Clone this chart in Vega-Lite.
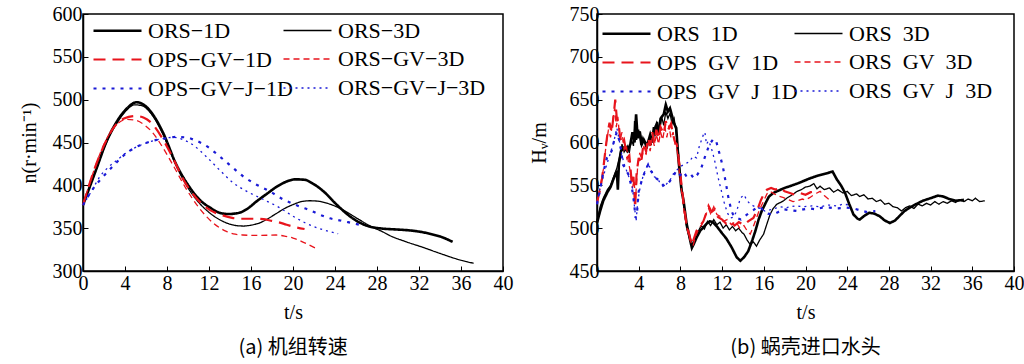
{
"$schema": "https://vega.github.io/schema/vega-lite/v6.json",
"padding": {"left": 18, "top": 3, "right": 0, "bottom": 0},
"config": {
 "font": "Times New Roman",
 "view": {"stroke": "black", "strokeWidth": 1.5},
 "axis": {"domainColor": "black", "domainWidth": 1.5, "tickColor": "black", "tickSize": -5, "tickWidth": 1, "labelFont": "Times New Roman", "labelFontSize": 20, "labelColor": "black", "labelFlush": false, "titleFont": "Times New Roman", "titleFontSize": 20, "titleFontWeight": "normal", "titleColor": "black", "grid": false, "labelPadding": 3},
 "legend": {"orient": "none", "direction": "horizontal", "columns": 2, "symbolType": "M-2.4,0H2.4", "symbolSize": 400, "labelFont": "Times New Roman", "labelFontSize": 22, "labelColor": "black", "labelOffset": 19, "rowPadding": 6, "columnPadding": 0, "labelLimit": 300},
 "concat": {"spacing": 14},
 "title": {"font": "Noto Sans CJK SC", "fontSize": 20, "fontWeight": "normal", "orient": "bottom", "anchor": "middle", "color": "black", "frame": "group"}
},
"datasets": {
"a": [
{"s":"ORS−1D","t":0,"v":377},{"s":"ORS−1D","t":1.3,"v":420},{"s":"ORS−1D","t":2.2,"v":450},{"s":"ORS−1D","t":3.2,"v":474},{"s":"ORS−1D","t":4.2,"v":490},{"s":"ORS−1D","t":5.1,"v":497},{"s":"ORS−1D","t":6.0,"v":492},{"s":"ORS−1D","t":6.8,"v":480},{"s":"ORS−1D","t":7.6,"v":462},{"s":"ORS−1D","t":8.9,"v":424},{"s":"ORS−1D","t":10.2,"v":397},{"s":"ORS−1D","t":11.2,"v":382},{"s":"ORS−1D","t":12.1,"v":374},{"s":"ORS−1D","t":13.0,"v":368},{"s":"ORS−1D","t":13.8,"v":366.5},{"s":"ORS−1D","t":14.9,"v":368},{"s":"ORS−1D","t":15.7,"v":373},{"s":"ORS−1D","t":16.5,"v":381},{"s":"ORS−1D","t":17.5,"v":390},{"s":"ORS−1D","t":18.4,"v":398},{"s":"ORS−1D","t":19.3,"v":404},{"s":"ORS−1D","t":20.2,"v":407},{"s":"ORS−1D","t":21.1,"v":406.5},{"s":"ORS−1D","t":21.9,"v":402},{"s":"ORS−1D","t":22.9,"v":393},{"s":"ORS−1D","t":24.2,"v":377},{"s":"ORS−1D","t":25.4,"v":364},{"s":"ORS−1D","t":26.6,"v":355},{"s":"ORS−1D","t":27.6,"v":351},{"s":"ORS−1D","t":28.5,"v":349.5},{"s":"ORS−1D","t":29.8,"v":348.5},{"s":"ORS−1D","t":31.0,"v":347.5},{"s":"ORS−1D","t":32.0,"v":346},{"s":"ORS−1D","t":33.2,"v":343},{"s":"ORS−1D","t":34.3,"v":339},{"s":"ORS−1D","t":35.2,"v":334},
{"s":"ORS−3D","t":0,"v":377},{"s":"ORS−3D","t":1.3,"v":420},{"s":"ORS−3D","t":2.2,"v":449},{"s":"ORS−3D","t":3.2,"v":472},{"s":"ORS−3D","t":4.1,"v":487},{"s":"ORS−3D","t":4.9,"v":494},{"s":"ORS−3D","t":5.6,"v":493},{"s":"ORS−3D","t":6.4,"v":485},{"s":"ORS−3D","t":7.6,"v":460},{"s":"ORS−3D","t":8.8,"v":425},{"s":"ORS−3D","t":10.0,"v":397},{"s":"ORS−3D","t":11.1,"v":379},{"s":"ORS−3D","t":12.1,"v":367.5},{"s":"ORS−3D","t":13.0,"v":360},{"s":"ORS−3D","t":13.8,"v":355.5},{"s":"ORS−3D","t":14.6,"v":353},{"s":"ORS−3D","t":15.3,"v":352.5},{"s":"ORS−3D","t":16.0,"v":353.5},{"s":"ORS−3D","t":16.8,"v":356},{"s":"ORS−3D","t":17.6,"v":361},{"s":"ORS−3D","t":18.4,"v":367},{"s":"ORS−3D","t":19.2,"v":373},{"s":"ORS−3D","t":20.0,"v":377.5},{"s":"ORS−3D","t":20.8,"v":381},{"s":"ORS−3D","t":21.6,"v":382},{"s":"ORS−3D","t":22.4,"v":381.5},{"s":"ORS−3D","t":23.4,"v":378.5},{"s":"ORS−3D","t":24.5,"v":373},{"s":"ORS−3D","t":25.5,"v":366},{"s":"ORS−3D","t":26.3,"v":360},{"s":"ORS−3D","t":27.6,"v":351},{"s":"ORS−3D","t":28.5,"v":346},{"s":"ORS−3D","t":29.2,"v":341.5},{"s":"ORS−3D","t":30.8,"v":334},{"s":"ORS−3D","t":32.4,"v":327.5},{"s":"ORS−3D","t":34.0,"v":320.5},{"s":"ORS−3D","t":35.6,"v":314},{"s":"ORS−3D","t":37.2,"v":309},
{"s":"OPS−GV−1D","t":0,"v":377},{"s":"OPS−GV−1D","t":0.95,"v":414},{"s":"OPS−GV−1D","t":1.9,"v":444},{"s":"OPS−GV−1D","t":2.9,"v":467},{"s":"OPS−GV−1D","t":3.9,"v":478},{"s":"OPS−GV−1D","t":5.0,"v":481},{"s":"OPS−GV−1D","t":5.8,"v":479},{"s":"OPS−GV−1D","t":6.5,"v":473},{"s":"OPS−GV−1D","t":7.6,"v":454},{"s":"OPS−GV−1D","t":8.6,"v":431},{"s":"OPS−GV−1D","t":9.5,"v":408},{"s":"OPS−GV−1D","t":10.8,"v":385},{"s":"OPS−GV−1D","t":12.1,"v":371},{"s":"OPS−GV−1D","t":13.3,"v":365},{"s":"OPS−GV−1D","t":14.2,"v":362},{"s":"OPS−GV−1D","t":15.0,"v":361},{"s":"OPS−GV−1D","t":16.2,"v":361},{"s":"OPS−GV−1D","t":17.2,"v":360.5},{"s":"OPS−GV−1D","t":17.8,"v":359},{"s":"OPS−GV−1D","t":18.6,"v":357},{"s":"OPS−GV−1D","t":19.4,"v":354},{"s":"OPS−GV−1D","t":20.3,"v":351},{"s":"OPS−GV−1D","t":21.1,"v":349},
{"s":"ORS−GV−3D","t":0,"v":377},{"s":"ORS−GV−3D","t":1.0,"v":416},{"s":"ORS−GV−3D","t":2.0,"v":448},{"s":"ORS−GV−3D","t":3.2,"v":471},{"s":"ORS−GV−3D","t":4.2,"v":477},{"s":"ORS−GV−3D","t":5.0,"v":476},{"s":"ORS−GV−3D","t":5.9,"v":470},{"s":"ORS−GV−3D","t":6.6,"v":462},{"s":"ORS−GV−3D","t":7.3,"v":450},{"s":"ORS−GV−3D","t":8.6,"v":423},{"s":"ORS−GV−3D","t":9.8,"v":396.5},{"s":"ORS−GV−3D","t":11.1,"v":373},{"s":"ORS−GV−3D","t":12.4,"v":356},{"s":"ORS−GV−3D","t":13.6,"v":346.5},{"s":"ORS−GV−3D","t":14.5,"v":343},{"s":"ORS−GV−3D","t":15.2,"v":342},{"s":"ORS−GV−3D","t":16.8,"v":341.5},{"s":"ORS−GV−3D","t":18.4,"v":342},{"s":"ORS−GV−3D","t":19.3,"v":340.5},{"s":"ORS−GV−3D","t":20.0,"v":338.5},{"s":"ORS−GV−3D","t":21.0,"v":333.5},{"s":"ORS−GV−3D","t":22.1,"v":327},
{"s":"OPS−GV−J−1D","t":0,"v":377},{"s":"OPS−GV−J−1D","t":0.9,"v":395},{"s":"OPS−GV−J−1D","t":1.9,"v":410},{"s":"OPS−GV−J−1D","t":2.9,"v":423},{"s":"OPS−GV−J−1D","t":3.8,"v":434},{"s":"OPS−GV−J−1D","t":4.8,"v":443},{"s":"OPS−GV−J−1D","t":5.7,"v":448},{"s":"OPS−GV−J−1D","t":7.0,"v":453},{"s":"OPS−GV−J−1D","t":8.0,"v":455},{"s":"OPS−GV−J−1D","t":8.8,"v":456.5},{"s":"OPS−GV−J−1D","t":9.8,"v":456},{"s":"OPS−GV−J−1D","t":10.6,"v":453},{"s":"OPS−GV−J−1D","t":11.4,"v":448.5},{"s":"OPS−GV−J−1D","t":12.1,"v":443},{"s":"OPS−GV−J−1D","t":12.7,"v":437},{"s":"OPS−GV−J−1D","t":14.0,"v":423.5},{"s":"OPS−GV−J−1D","t":15.2,"v":411},{"s":"OPS−GV−J−1D","t":16.5,"v":401},{"s":"OPS−GV−J−1D","t":17.8,"v":393},{"s":"OPS−GV−J−1D","t":19.0,"v":384},{"s":"OPS−GV−J−1D","t":20.0,"v":378.5},{"s":"OPS−GV−J−1D","t":20.7,"v":375},{"s":"OPS−GV−J−1D","t":21.6,"v":371},{"s":"OPS−GV−J−1D","t":22.5,"v":366},{"s":"OPS−GV−J−1D","t":23.5,"v":361.5},{"s":"OPS−GV−J−1D","t":24.5,"v":359},{"s":"OPS−GV−J−1D","t":25.6,"v":356},{"s":"OPS−GV−J−1D","t":26.7,"v":353},
{"s":"ORS−GV−J−3D","t":0,"v":377},{"s":"ORS−GV−J−3D","t":0.8,"v":393},{"s":"ORS−GV−J−3D","t":1.6,"v":410},{"s":"ORS−GV−J−3D","t":2.4,"v":421},{"s":"ORS−GV−J−3D","t":3.2,"v":429},{"s":"ORS−GV−J−3D","t":4.0,"v":437},{"s":"ORS−GV−J−3D","t":4.8,"v":443},{"s":"ORS−GV−J−3D","t":5.6,"v":447.5},{"s":"ORS−GV−J−3D","t":6.4,"v":451},{"s":"ORS−GV−J−3D","t":7.6,"v":454.5},{"s":"ORS−GV−J−3D","t":8.6,"v":456},{"s":"ORS−GV−J−3D","t":9.4,"v":454},{"s":"ORS−GV−J−3D","t":10.5,"v":447},{"s":"ORS−GV−J−3D","t":11.7,"v":434},{"s":"ORS−GV−J−3D","t":13.0,"v":418},{"s":"ORS−GV−J−3D","t":14.3,"v":403},{"s":"ORS−GV−J−3D","t":15.6,"v":393},{"s":"ORS−GV−J−3D","t":17.1,"v":384},{"s":"ORS−GV−J−3D","t":18.7,"v":374},{"s":"ORS−GV−J−3D","t":20.0,"v":364},{"s":"ORS−GV−J−3D","t":21.2,"v":356},{"s":"ORS−GV−J−3D","t":22.4,"v":350},{"s":"ORS−GV−J−3D","t":23.5,"v":346},{"s":"ORS−GV−J−3D","t":24.3,"v":343.5}
],
"b": [
{"s":"ORS−1D","t":0,"v":506},{"s":"ORS−1D","t":0.3,"v":520},{"s":"ORS−1D","t":0.6,"v":532},{"s":"ORS−1D","t":1.0,"v":542},{"s":"ORS−1D","t":1.3,"v":548},{"s":"ORS−1D","t":1.6,"v":558},{"s":"ORS−1D","t":1.9,"v":567},{"s":"ORS−1D","t":2.0,"v":545},{"s":"ORS−1D","t":2.1,"v":575},{"s":"ORS−1D","t":2.3,"v":590},{"s":"ORS−1D","t":2.6,"v":594},{"s":"ORS−1D","t":2.9,"v":590},{"s":"ORS−1D","t":3.2,"v":598},{"s":"ORS−1D","t":3.4,"v":612},{"s":"ORS−1D","t":3.6,"v":600},{"s":"ORS−1D","t":3.75,"v":633},{"s":"ORS−1D","t":3.9,"v":605},{"s":"ORS−1D","t":4.1,"v":613},{"s":"ORS−1D","t":4.3,"v":598},{"s":"ORS−1D","t":4.5,"v":603},{"s":"ORS−1D","t":4.8,"v":596},{"s":"ORS−1D","t":5.1,"v":609},{"s":"ORS−1D","t":5.3,"v":600},{"s":"ORS−1D","t":5.5,"v":615},{"s":"ORS−1D","t":5.7,"v":621},{"s":"ORS−1D","t":5.9,"v":610},{"s":"ORS−1D","t":6.1,"v":628},{"s":"ORS−1D","t":6.4,"v":633},{"s":"ORS−1D","t":6.6,"v":644},{"s":"ORS−1D","t":6.8,"v":636},{"s":"ORS−1D","t":7.0,"v":640},{"s":"ORS−1D","t":7.2,"v":631},{"s":"ORS−1D","t":7.4,"v":622},{"s":"ORS−1D","t":7.6,"v":617},{"s":"ORS−1D","t":7.8,"v":582},{"s":"ORS−1D","t":8.1,"v":545},{"s":"ORS−1D","t":8.3,"v":532},{"s":"ORS−1D","t":8.6,"v":505},{"s":"ORS−1D","t":8.9,"v":488},{"s":"ORS−1D","t":9.1,"v":477},{"s":"ORS−1D","t":9.3,"v":482},{"s":"ORS−1D","t":9.55,"v":489},{"s":"ORS−1D","t":9.9,"v":497},{"s":"ORS−1D","t":10.2,"v":501},{"s":"ORS−1D","t":10.5,"v":505},{"s":"ORS−1D","t":10.8,"v":508},{"s":"ORS−1D","t":11.1,"v":507},{"s":"ORS−1D","t":11.5,"v":502},{"s":"ORS−1D","t":12.0,"v":494},{"s":"ORS−1D","t":12.4,"v":488},{"s":"ORS−1D","t":12.9,"v":478},{"s":"ORS−1D","t":13.4,"v":466},{"s":"ORS−1D","t":13.75,"v":462},{"s":"ORS−1D","t":14.1,"v":466},{"s":"ORS−1D","t":14.5,"v":473},{"s":"ORS−1D","t":14.9,"v":486},{"s":"ORS−1D","t":15.2,"v":497},{"s":"ORS−1D","t":15.5,"v":510},{"s":"ORS−1D","t":15.8,"v":520},{"s":"ORS−1D","t":16.2,"v":530},{"s":"ORS−1D","t":16.5,"v":537},{"s":"ORS−1D","t":16.9,"v":541},{"s":"ORS−1D","t":17.25,"v":543},{"s":"ORS−1D","t":18.0,"v":547},{"s":"ORS−1D","t":18.5,"v":549},{"s":"ORS−1D","t":19.2,"v":552},{"s":"ORS−1D","t":19.8,"v":555},{"s":"ORS−1D","t":20.4,"v":558},{"s":"ORS−1D","t":21.1,"v":561},{"s":"ORS−1D","t":21.7,"v":563},{"s":"ORS−1D","t":22.3,"v":565},{"s":"ORS−1D","t":22.6,"v":566},{"s":"ORS−1D","t":23.0,"v":557},{"s":"ORS−1D","t":23.4,"v":550},{"s":"ORS−1D","t":23.8,"v":541},{"s":"ORS−1D","t":24.2,"v":528},{"s":"ORS−1D","t":24.6,"v":516},{"s":"ORS−1D","t":25.0,"v":511},{"s":"ORS−1D","t":25.2,"v":510},{"s":"ORS−1D","t":25.6,"v":514},{"s":"ORS−1D","t":26.1,"v":518},{"s":"ORS−1D","t":26.6,"v":517},{"s":"ORS−1D","t":27.1,"v":514},{"s":"ORS−1D","t":27.6,"v":509},{"s":"ORS−1D","t":28.1,"v":506},{"s":"ORS−1D","t":28.6,"v":509},{"s":"ORS−1D","t":29.0,"v":514},{"s":"ORS−1D","t":29.5,"v":520},{"s":"ORS−1D","t":30.0,"v":524},{"s":"ORS−1D","t":30.6,"v":528},{"s":"ORS−1D","t":31.25,"v":532},{"s":"ORS−1D","t":32.0,"v":535},{"s":"ORS−1D","t":32.7,"v":538},{"s":"ORS−1D","t":33.2,"v":537},{"s":"ORS−1D","t":33.8,"v":534},{"s":"ORS−1D","t":34.4,"v":532},{"s":"ORS−1D","t":35.2,"v":533},
{"s":"ORS−3D","t":0,"v":508},{"s":"ORS−3D","t":0.3,"v":525},{"s":"ORS−3D","t":0.6,"v":535},{"s":"ORS−3D","t":1.0,"v":545},{"s":"ORS−3D","t":1.3,"v":550},{"s":"ORS−3D","t":1.6,"v":560},{"s":"ORS−3D","t":1.9,"v":570},{"s":"ORS−3D","t":2.2,"v":585},{"s":"ORS−3D","t":2.4,"v":598},{"s":"ORS−3D","t":2.6,"v":589},{"s":"ORS−3D","t":2.9,"v":596},{"s":"ORS−3D","t":3.1,"v":588},{"s":"ORS−3D","t":3.3,"v":604},{"s":"ORS−3D","t":3.5,"v":596},{"s":"ORS−3D","t":3.6,"v":625},{"s":"ORS−3D","t":3.8,"v":603},{"s":"ORS−3D","t":4.0,"v":615},{"s":"ORS−3D","t":4.2,"v":597},{"s":"ORS−3D","t":4.4,"v":606},{"s":"ORS−3D","t":4.7,"v":594},{"s":"ORS−3D","t":5.0,"v":604},{"s":"ORS−3D","t":5.2,"v":597},{"s":"ORS−3D","t":5.4,"v":618},{"s":"ORS−3D","t":5.6,"v":608},{"s":"ORS−3D","t":5.8,"v":624},{"s":"ORS−3D","t":6.0,"v":612},{"s":"ORS−3D","t":6.2,"v":630},{"s":"ORS−3D","t":6.4,"v":620},{"s":"ORS−3D","t":6.6,"v":636},{"s":"ORS−3D","t":6.8,"v":628},{"s":"ORS−3D","t":7.0,"v":634},{"s":"ORS−3D","t":7.2,"v":622},{"s":"ORS−3D","t":7.4,"v":628},{"s":"ORS−3D","t":7.6,"v":610},{"s":"ORS−3D","t":7.8,"v":590},{"s":"ORS−3D","t":8.0,"v":560},{"s":"ORS−3D","t":8.3,"v":528},{"s":"ORS−3D","t":8.6,"v":500},{"s":"ORS−3D","t":8.9,"v":487},{"s":"ORS−3D","t":9.1,"v":480},{"s":"ORS−3D","t":9.4,"v":490},{"s":"ORS−3D","t":9.7,"v":496},{"s":"ORS−3D","t":10.0,"v":503},{"s":"ORS−3D","t":10.3,"v":499},{"s":"ORS−3D","t":10.6,"v":508},{"s":"ORS−3D","t":10.9,"v":503},{"s":"ORS−3D","t":11.2,"v":510},{"s":"ORS−3D","t":11.5,"v":504},{"s":"ORS−3D","t":11.8,"v":507},{"s":"ORS−3D","t":12.1,"v":500},{"s":"ORS−3D","t":12.4,"v":504},{"s":"ORS−3D","t":12.7,"v":498},{"s":"ORS−3D","t":13.0,"v":502},{"s":"ORS−3D","t":13.3,"v":497},{"s":"ORS−3D","t":13.6,"v":500},{"s":"ORS−3D","t":13.9,"v":495},{"s":"ORS−3D","t":14.1,"v":493},{"s":"ORS−3D","t":14.4,"v":486},{"s":"ORS−3D","t":14.7,"v":481},{"s":"ORS−3D","t":15.0,"v":484},{"s":"ORS−3D","t":15.3,"v":479},{"s":"ORS−3D","t":15.6,"v":486},{"s":"ORS−3D","t":15.98,"v":493},{"s":"ORS−3D","t":16.3,"v":505},{"s":"ORS−3D","t":16.6,"v":516},{"s":"ORS−3D","t":16.9,"v":523},{"s":"ORS−3D","t":17.25,"v":528},{"s":"ORS−3D","t":17.6,"v":530},{"s":"ORS−3D","t":17.9,"v":532},{"s":"ORS−3D","t":18.2,"v":535},{"s":"ORS−3D","t":18.6,"v":538},{"s":"ORS−3D","t":19.2,"v":543},{"s":"ORS−3D","t":19.6,"v":545},{"s":"ORS−3D","t":20.0,"v":548},{"s":"ORS−3D","t":20.4,"v":549},{"s":"ORS−3D","t":20.8,"v":552},{"s":"ORS−3D","t":21.1,"v":546},{"s":"ORS−3D","t":21.4,"v":549},{"s":"ORS−3D","t":21.8,"v":545},{"s":"ORS−3D","t":22.3,"v":547},{"s":"ORS−3D","t":22.7,"v":542},{"s":"ORS−3D","t":23.1,"v":545},{"s":"ORS−3D","t":23.6,"v":541},{"s":"ORS−3D","t":24.0,"v":543},{"s":"ORS−3D","t":24.4,"v":538},{"s":"ORS−3D","t":24.9,"v":540},{"s":"ORS−3D","t":25.2,"v":537},{"s":"ORS−3D","t":25.6,"v":539},{"s":"ORS−3D","t":26.0,"v":534},{"s":"ORS−3D","t":26.4,"v":535},{"s":"ORS−3D","t":26.8,"v":531},{"s":"ORS−3D","t":27.2,"v":533},{"s":"ORS−3D","t":27.6,"v":528},{"s":"ORS−3D","t":28.0,"v":529},{"s":"ORS−3D","t":28.4,"v":525},{"s":"ORS−3D","t":28.8,"v":524},{"s":"ORS−3D","t":29.2,"v":520},{"s":"ORS−3D","t":29.6,"v":524},{"s":"ORS−3D","t":30.0,"v":526},{"s":"ORS−3D","t":30.4,"v":523},{"s":"ORS−3D","t":30.8,"v":528},{"s":"ORS−3D","t":31.2,"v":526},{"s":"ORS−3D","t":31.6,"v":529},{"s":"ORS−3D","t":32.0,"v":527},{"s":"ORS−3D","t":32.4,"v":531},{"s":"ORS−3D","t":32.8,"v":528},{"s":"ORS−3D","t":33.2,"v":531},{"s":"ORS−3D","t":33.6,"v":529},{"s":"ORS−3D","t":34.0,"v":532},{"s":"ORS−3D","t":34.4,"v":530},{"s":"ORS−3D","t":34.8,"v":533},{"s":"ORS−3D","t":35.2,"v":531},{"s":"ORS−3D","t":35.6,"v":534},{"s":"ORS−3D","t":36.0,"v":532},{"s":"ORS−3D","t":36.3,"v":535},{"s":"ORS−3D","t":36.7,"v":531},{"s":"ORS−3D","t":37.2,"v":532},
{"s":"OPS−GV−1D","t":0,"v":530},{"s":"OPS−GV−1D","t":0.3,"v":545},{"s":"OPS−GV−1D","t":0.5,"v":559},{"s":"OPS−GV−1D","t":0.8,"v":590},{"s":"OPS−GV−1D","t":1.0,"v":610},{"s":"OPS−GV−1D","t":1.2,"v":623},{"s":"OPS−GV−1D","t":1.4,"v":612},{"s":"OPS−GV−1D","t":1.6,"v":632},{"s":"OPS−GV−1D","t":1.75,"v":650},{"s":"OPS−GV−1D","t":1.9,"v":628},{"s":"OPS−GV−1D","t":2.07,"v":621},{"s":"OPS−GV−1D","t":2.2,"v":608},{"s":"OPS−GV−1D","t":2.4,"v":598},{"s":"OPS−GV−1D","t":2.6,"v":603},{"s":"OPS−GV−1D","t":2.9,"v":582},{"s":"OPS−GV−1D","t":3.1,"v":585},{"s":"OPS−GV−1D","t":3.35,"v":551},{"s":"OPS−GV−1D","t":3.5,"v":560},{"s":"OPS−GV−1D","t":3.66,"v":524},{"s":"OPS−GV−1D","t":3.8,"v":565},{"s":"OPS−GV−1D","t":4.0,"v":582},{"s":"OPS−GV−1D","t":4.2,"v":575},{"s":"OPS−GV−1D","t":4.46,"v":598},{"s":"OPS−GV−1D","t":4.7,"v":590},{"s":"OPS−GV−1D","t":4.9,"v":605},{"s":"OPS−GV−1D","t":5.1,"v":596},{"s":"OPS−GV−1D","t":5.3,"v":612},{"s":"OPS−GV−1D","t":5.5,"v":600},{"s":"OPS−GV−1D","t":5.7,"v":615},{"s":"OPS−GV−1D","t":5.9,"v":604},{"s":"OPS−GV−1D","t":6.1,"v":618},{"s":"OPS−GV−1D","t":6.4,"v":610},{"s":"OPS−GV−1D","t":6.6,"v":625},{"s":"OPS−GV−1D","t":6.85,"v":615},{"s":"OPS−GV−1D","t":7.1,"v":622},{"s":"OPS−GV−1D","t":7.3,"v":609},{"s":"OPS−GV−1D","t":7.5,"v":600},{"s":"OPS−GV−1D","t":7.65,"v":598},{"s":"OPS−GV−1D","t":7.9,"v":575},{"s":"OPS−GV−1D","t":8.1,"v":551},{"s":"OPS−GV−1D","t":8.4,"v":520},{"s":"OPS−GV−1D","t":8.6,"v":504},{"s":"OPS−GV−1D","t":8.9,"v":490},{"s":"OPS−GV−1D","t":9.1,"v":481},{"s":"OPS−GV−1D","t":9.3,"v":488},{"s":"OPS−GV−1D","t":9.55,"v":497},{"s":"OPS−GV−1D","t":9.9,"v":503},{"s":"OPS−GV−1D","t":10.2,"v":508},{"s":"OPS−GV−1D","t":10.5,"v":518},{"s":"OPS−GV−1D","t":10.7,"v":526},{"s":"OPS−GV−1D","t":11.0,"v":519},{"s":"OPS−GV−1D","t":11.3,"v":522},{"s":"OPS−GV−1D","t":11.6,"v":513},{"s":"OPS−GV−1D","t":12.0,"v":510},{"s":"OPS−GV−1D","t":12.4,"v":505},{"s":"OPS−GV−1D","t":12.8,"v":508},{"s":"OPS−GV−1D","t":13.2,"v":503},{"s":"OPS−GV−1D","t":13.6,"v":507},{"s":"OPS−GV−1D","t":14.1,"v":504},{"s":"OPS−GV−1D","t":14.5,"v":508},{"s":"OPS−GV−1D","t":15.0,"v":512},{"s":"OPS−GV−1D","t":15.4,"v":522},{"s":"OPS−GV−1D","t":15.7,"v":532},{"s":"OPS−GV−1D","t":16.0,"v":540},{"s":"OPS−GV−1D","t":16.3,"v":545},{"s":"OPS−GV−1D","t":16.7,"v":547},{"s":"OPS−GV−1D","t":17.1,"v":545},{"s":"OPS−GV−1D","t":17.6,"v":547},{"s":"OPS−GV−1D","t":18.0,"v":543},{"s":"OPS−GV−1D","t":18.5,"v":541},{"s":"OPS−GV−1D","t":19.0,"v":539},{"s":"OPS−GV−1D","t":19.5,"v":541},{"s":"OPS−GV−1D","t":20.0,"v":539},{"s":"OPS−GV−1D","t":20.5,"v":542},{"s":"OPS−GV−1D","t":21.1,"v":543},
{"s":"ORS−GV−3D","t":0,"v":528},{"s":"ORS−GV−3D","t":0.3,"v":548},{"s":"ORS−GV−3D","t":0.6,"v":568},{"s":"ORS−GV−3D","t":0.9,"v":600},{"s":"ORS−GV−3D","t":1.1,"v":615},{"s":"ORS−GV−3D","t":1.3,"v":606},{"s":"ORS−GV−3D","t":1.5,"v":625},{"s":"ORS−GV−3D","t":1.7,"v":640},{"s":"ORS−GV−3D","t":1.85,"v":618},{"s":"ORS−GV−3D","t":2.0,"v":630},{"s":"ORS−GV−3D","t":2.2,"v":602},{"s":"ORS−GV−3D","t":2.4,"v":612},{"s":"ORS−GV−3D","t":2.6,"v":592},{"s":"ORS−GV−3D","t":2.8,"v":598},{"s":"ORS−GV−3D","t":3.0,"v":578},{"s":"ORS−GV−3D","t":3.2,"v":566},{"s":"ORS−GV−3D","t":3.4,"v":547},{"s":"ORS−GV−3D","t":3.55,"v":555},{"s":"ORS−GV−3D","t":3.7,"v":535},{"s":"ORS−GV−3D","t":3.9,"v":572},{"s":"ORS−GV−3D","t":4.1,"v":588},{"s":"ORS−GV−3D","t":4.3,"v":580},{"s":"ORS−GV−3D","t":4.5,"v":596},{"s":"ORS−GV−3D","t":4.7,"v":586},{"s":"ORS−GV−3D","t":4.9,"v":600},{"s":"ORS−GV−3D","t":5.1,"v":590},{"s":"ORS−GV−3D","t":5.3,"v":606},{"s":"ORS−GV−3D","t":5.5,"v":596},{"s":"ORS−GV−3D","t":5.7,"v":610},{"s":"ORS−GV−3D","t":5.9,"v":598},{"s":"ORS−GV−3D","t":6.1,"v":612},{"s":"ORS−GV−3D","t":6.3,"v":603},{"s":"ORS−GV−3D","t":6.5,"v":618},{"s":"ORS−GV−3D","t":6.7,"v":606},{"s":"ORS−GV−3D","t":6.9,"v":620},{"s":"ORS−GV−3D","t":7.1,"v":605},{"s":"ORS−GV−3D","t":7.3,"v":612},{"s":"ORS−GV−3D","t":7.5,"v":597},{"s":"ORS−GV−3D","t":7.7,"v":590},{"s":"ORS−GV−3D","t":7.9,"v":565},{"s":"ORS−GV−3D","t":8.1,"v":545},{"s":"ORS−GV−3D","t":8.4,"v":515},{"s":"ORS−GV−3D","t":8.7,"v":496},{"s":"ORS−GV−3D","t":9.0,"v":484},{"s":"ORS−GV−3D","t":9.2,"v":479},{"s":"ORS−GV−3D","t":9.5,"v":492},{"s":"ORS−GV−3D","t":9.8,"v":500},{"s":"ORS−GV−3D","t":10.1,"v":505},{"s":"ORS−GV−3D","t":10.4,"v":515},{"s":"ORS−GV−3D","t":10.7,"v":523},{"s":"ORS−GV−3D","t":10.9,"v":517},{"s":"ORS−GV−3D","t":11.2,"v":525},{"s":"ORS−GV−3D","t":11.5,"v":516},{"s":"ORS−GV−3D","t":11.8,"v":514},{"s":"ORS−GV−3D","t":12.1,"v":508},{"s":"ORS−GV−3D","t":12.5,"v":510},{"s":"ORS−GV−3D","t":12.9,"v":504},{"s":"ORS−GV−3D","t":13.3,"v":508},{"s":"ORS−GV−3D","t":13.7,"v":500},{"s":"ORS−GV−3D","t":14.1,"v":503},{"s":"ORS−GV−3D","t":14.4,"v":497},{"s":"ORS−GV−3D","t":14.7,"v":493},{"s":"ORS−GV−3D","t":15.0,"v":502},{"s":"ORS−GV−3D","t":15.3,"v":512},{"s":"ORS−GV−3D","t":15.6,"v":522},{"s":"ORS−GV−3D","t":16.0,"v":532},{"s":"ORS−GV−3D","t":16.3,"v":540},{"s":"ORS−GV−3D","t":16.6,"v":543},{"s":"ORS−GV−3D","t":17.0,"v":540},{"s":"ORS−GV−3D","t":17.5,"v":537},{"s":"ORS−GV−3D","t":17.9,"v":535.6},{"s":"ORS−GV−3D","t":18.4,"v":533},{"s":"ORS−GV−3D","t":18.8,"v":531},{"s":"ORS−GV−3D","t":19.2,"v":532},{"s":"ORS−GV−3D","t":19.7,"v":534},{"s":"ORS−GV−3D","t":20.0,"v":533},{"s":"ORS−GV−3D","t":20.4,"v":535.6},{"s":"ORS−GV−3D","t":20.8,"v":539},{"s":"ORS−GV−3D","t":21.1,"v":541},{"s":"ORS−GV−3D","t":21.4,"v":543},{"s":"ORS−GV−3D","t":21.8,"v":538},{"s":"ORS−GV−3D","t":22.3,"v":533},
{"s":"OPS−GV−J−1D","t":0,"v":528},{"s":"OPS−GV−J−1D","t":0.3,"v":545},{"s":"OPS−GV−J−1D","t":0.6,"v":565},{"s":"OPS−GV−J−1D","t":0.95,"v":582},{"s":"OPS−GV−J−1D","t":1.2,"v":586},{"s":"OPS−GV−J−1D","t":1.4,"v":590},{"s":"OPS−GV−J−1D","t":1.7,"v":605},{"s":"OPS−GV−J−1D","t":1.9,"v":612},{"s":"OPS−GV−J−1D","t":2.2,"v":600},{"s":"OPS−GV−J−1D","t":2.5,"v":574},{"s":"OPS−GV−J−1D","t":2.8,"v":568},{"s":"OPS−GV−J−1D","t":3.0,"v":563},{"s":"OPS−GV−J−1D","t":3.35,"v":547},{"s":"OPS−GV−J−1D","t":3.55,"v":530},{"s":"OPS−GV−J−1D","t":3.7,"v":512},{"s":"OPS−GV−J−1D","t":3.85,"v":520},{"s":"OPS−GV−J−1D","t":4.0,"v":543},{"s":"OPS−GV−J−1D","t":4.3,"v":556},{"s":"OPS−GV−J−1D","t":4.6,"v":566},{"s":"OPS−GV−J−1D","t":4.9,"v":574},{"s":"OPS−GV−J−1D","t":5.1,"v":568},{"s":"OPS−GV−J−1D","t":5.4,"v":563},{"s":"OPS−GV−J−1D","t":5.7,"v":558},{"s":"OPS−GV−J−1D","t":6.05,"v":555},{"s":"OPS−GV−J−1D","t":6.3,"v":551},{"s":"OPS−GV−J−1D","t":6.5,"v":549},{"s":"OPS−GV−J−1D","t":6.8,"v":552},{"s":"OPS−GV−J−1D","t":7.0,"v":555},{"s":"OPS−GV−J−1D","t":7.3,"v":560},{"s":"OPS−GV−J−1D","t":7.6,"v":567},{"s":"OPS−GV−J−1D","t":8.0,"v":562},{"s":"OPS−GV−J−1D","t":8.3,"v":566},{"s":"OPS−GV−J−1D","t":8.6,"v":560},{"s":"OPS−GV−J−1D","t":9.0,"v":563},{"s":"OPS−GV−J−1D","t":9.3,"v":558},{"s":"OPS−GV−J−1D","t":9.6,"v":562},{"s":"OPS−GV−J−1D","t":10.0,"v":570},{"s":"OPS−GV−J−1D","t":10.4,"v":585},{"s":"OPS−GV−J−1D","t":10.8,"v":598},{"s":"OPS−GV−J−1D","t":11.15,"v":604},{"s":"OPS−GV−J−1D","t":11.4,"v":603},{"s":"OPS−GV−J−1D","t":11.6,"v":594},{"s":"OPS−GV−J−1D","t":11.9,"v":580},{"s":"OPS−GV−J−1D","t":12.1,"v":570},{"s":"OPS−GV−J−1D","t":12.4,"v":550},{"s":"OPS−GV−J−1D","t":12.6,"v":536},{"s":"OPS−GV−J−1D","t":12.9,"v":520},{"s":"OPS−GV−J−1D","t":13.05,"v":516},{"s":"OPS−GV−J−1D","t":13.4,"v":512},{"s":"OPS−GV−J−1D","t":13.8,"v":510},{"s":"OPS−GV−J−1D","t":14.2,"v":514},{"s":"OPS−GV−J−1D","t":14.6,"v":518},{"s":"OPS−GV−J−1D","t":15.0,"v":521},{"s":"OPS−GV−J−1D","t":15.3,"v":524},{"s":"OPS−GV−J−1D","t":15.7,"v":524},{"s":"OPS−GV−J−1D","t":16.0,"v":520},{"s":"OPS−GV−J−1D","t":16.4,"v":517},{"s":"OPS−GV−J−1D","t":16.9,"v":516},{"s":"OPS−GV−J−1D","t":17.4,"v":519},{"s":"OPS−GV−J−1D","t":17.9,"v":522},{"s":"OPS−GV−J−1D","t":18.5,"v":521},{"s":"OPS−GV−J−1D","t":19.2,"v":520},{"s":"OPS−GV−J−1D","t":19.8,"v":522},{"s":"OPS−GV−J−1D","t":20.4,"v":523},{"s":"OPS−GV−J−1D","t":21.0,"v":522},{"s":"OPS−GV−J−1D","t":21.6,"v":524},{"s":"OPS−GV−J−1D","t":22.3,"v":524},{"s":"OPS−GV−J−1D","t":23.0,"v":523},{"s":"OPS−GV−J−1D","t":23.9,"v":524},{"s":"OPS−GV−J−1D","t":24.6,"v":523},{"s":"OPS−GV−J−1D","t":25.2,"v":521},{"s":"OPS−GV−J−1D","t":25.8,"v":519},{"s":"OPS−GV−J−1D","t":26.7,"v":520},
{"s":"ORS−GV−J−3D","t":0,"v":530},{"s":"ORS−GV−J−3D","t":0.3,"v":547},{"s":"ORS−GV−J−3D","t":0.6,"v":560},{"s":"ORS−GV−J−3D","t":0.95,"v":575},{"s":"ORS−GV−J−3D","t":1.3,"v":588},{"s":"ORS−GV−J−3D","t":1.6,"v":600},{"s":"ORS−GV−J−3D","t":1.9,"v":617},{"s":"ORS−GV−J−3D","t":2.1,"v":605},{"s":"ORS−GV−J−3D","t":2.3,"v":590},{"s":"ORS−GV−J−3D","t":2.6,"v":575},{"s":"ORS−GV−J−3D","t":2.9,"v":565},{"s":"ORS−GV−J−3D","t":3.2,"v":555},{"s":"ORS−GV−J−3D","t":3.4,"v":547},{"s":"ORS−GV−J−3D","t":3.6,"v":525},{"s":"ORS−GV−J−3D","t":3.75,"v":508},{"s":"ORS−GV−J−3D","t":3.9,"v":530},{"s":"ORS−GV−J−3D","t":4.1,"v":545},{"s":"ORS−GV−J−3D","t":4.4,"v":560},{"s":"ORS−GV−J−3D","t":4.7,"v":570},{"s":"ORS−GV−J−3D","t":4.9,"v":575},{"s":"ORS−GV−J−3D","t":5.2,"v":568},{"s":"ORS−GV−J−3D","t":5.5,"v":560},{"s":"ORS−GV−J−3D","t":5.8,"v":558},{"s":"ORS−GV−J−3D","t":6.1,"v":552},{"s":"ORS−GV−J−3D","t":6.4,"v":548},{"s":"ORS−GV−J−3D","t":6.7,"v":552},{"s":"ORS−GV−J−3D","t":7.0,"v":556},{"s":"ORS−GV−J−3D","t":7.3,"v":563},{"s":"ORS−GV−J−3D","t":7.6,"v":567},{"s":"ORS−GV−J−3D","t":8.0,"v":572},{"s":"ORS−GV−J−3D","t":8.3,"v":574},{"s":"ORS−GV−J−3D","t":8.6,"v":576},{"s":"ORS−GV−J−3D","t":8.9,"v":578},{"s":"ORS−GV−J−3D","t":9.2,"v":584},{"s":"ORS−GV−J−3D","t":9.55,"v":582},{"s":"ORS−GV−J−3D","t":9.8,"v":595},{"s":"ORS−GV−J−3D","t":10.0,"v":602},{"s":"ORS−GV−J−3D","t":10.2,"v":609},{"s":"ORS−GV−J−3D","t":10.35,"v":612},{"s":"ORS−GV−J−3D","t":10.5,"v":598},{"s":"ORS−GV−J−3D","t":10.7,"v":602},{"s":"ORS−GV−J−3D","t":10.9,"v":596},{"s":"ORS−GV−J−3D","t":11.1,"v":588},{"s":"ORS−GV−J−3D","t":11.3,"v":578},{"s":"ORS−GV−J−3D","t":11.6,"v":560},{"s":"ORS−GV−J−3D","t":11.9,"v":545},{"s":"ORS−GV−J−3D","t":12.2,"v":530},{"s":"ORS−GV−J−3D","t":12.5,"v":518},{"s":"ORS−GV−J−3D","t":12.8,"v":512},{"s":"ORS−GV−J−3D","t":13.1,"v":513},{"s":"ORS−GV−J−3D","t":13.4,"v":520},{"s":"ORS−GV−J−3D","t":13.75,"v":535},{"s":"ORS−GV−J−3D","t":14.1,"v":539},{"s":"ORS−GV−J−3D","t":14.4,"v":532},{"s":"ORS−GV−J−3D","t":14.7,"v":528},{"s":"ORS−GV−J−3D","t":15.0,"v":526},{"s":"ORS−GV−J−3D","t":15.4,"v":524},{"s":"ORS−GV−J−3D","t":15.7,"v":523},{"s":"ORS−GV−J−3D","t":16.1,"v":520},{"s":"ORS−GV−J−3D","t":16.5,"v":521},{"s":"ORS−GV−J−3D","t":17.0,"v":523},{"s":"ORS−GV−J−3D","t":17.6,"v":525},{"s":"ORS−GV−J−3D","t":18.2,"v":524},{"s":"ORS−GV−J−3D","t":19.0,"v":526},{"s":"ORS−GV−J−3D","t":19.8,"v":525},{"s":"ORS−GV−J−3D","t":20.6,"v":526},{"s":"ORS−GV−J−3D","t":21.4,"v":525},{"s":"ORS−GV−J−3D","t":22.2,"v":527},{"s":"ORS−GV−J−3D","t":23.0,"v":526},{"s":"ORS−GV−J−3D","t":23.6,"v":528},{"s":"ORS−GV−J−3D","t":24.3,"v":527}
]
},
"hconcat": [
{
 "width": 420, "height": 257,
 "data": {"name": "a"},
 "title": {"text": "(a) 机组转速", "offset": 16},
 "mark": {"type": "line", "interpolate": "monotone"},
 "encoding": {
  "x": {"field": "t", "type": "quantitative", "scale": {"domain": [0, 40], "nice": false}, "axis": {"values": [0,4,8,12,16,20,24,28,32,36,40], "title": "t/s", "titlePadding": 9, "labelPadding": 7}},
  "y": {"field": "v", "type": "quantitative", "scale": {"domain": [300, 600], "nice": false, "zero": false}, "axis": {"values": [300,350,400,450,500,550,600], "title": "n(r·min⁻¹)", "titlePadding": 13, "labelPadding": 6}},
  "color": {"field": "s", "type": "nominal", "scale": {"domain": ["ORS−1D","ORS−3D","OPS−GV−1D","ORS−GV−3D","OPS−GV−J−1D","ORS−GV−J−3D"], "range": ["#000000","#000000","#e8141c","#e8141c","#1a1ad6","#1a1ad6"]}, "legend": {"title": null, "legendX": 23, "legendY": 5, "columnPadding": -13}},
  "strokeDash": {"field": "s", "type": "nominal", "scale": {"domain": ["ORS−1D","ORS−3D","OPS−GV−1D","ORS−GV−3D","OPS−GV−J−1D","ORS−GV−J−3D"], "range": [[1,0],[1,0],[12,7],[6,4],[3,6],[2,4]]}, "legend": {"title": null, "legendX": 23, "legendY": 5, "columnPadding": -13}},
  "strokeWidth": {"field": "s", "type": "nominal", "scale": {"type": "ordinal", "domain": ["ORS−1D","ORS−3D","OPS−GV−1D","ORS−GV−3D","OPS−GV−J−1D","ORS−GV−J−3D"], "range": [2.6,1.3,2.2,1.3,2.2,1.3]}, "legend": {"title": null, "legendX": 23, "legendY": 5, "columnPadding": -13}}
 }
},
{
 "width": 417, "height": 257,
 "data": {"name": "b"},
 "title": {"text": "(b) 蜗壳进口水头", "offset": 16},
 "mark": {"type": "line", "interpolate": "linear"},
 "encoding": {
  "x": {"field": "t", "type": "quantitative", "scale": {"domain": [0, 40], "nice": false}, "axis": {"values": [0,4,8,12,16,20,24,28,32,36,40], "labelExpr": "datum.value === 0 ? '' : datum.label", "title": "t/s", "titlePadding": 9, "labelPadding": 7}},
  "y": {"field": "v", "type": "quantitative", "scale": {"domain": [450, 750], "nice": false, "zero": false}, "axis": {"values": [450,500,550,600,650,700,750], "title": "Hᵥ/m", "titlePadding": 20}},
  "color": {"field": "s", "type": "nominal", "scale": {"domain": ["ORS−1D","ORS−3D","OPS−GV−1D","ORS−GV−3D","OPS−GV−J−1D","ORS−GV−J−3D"], "range": ["#000000","#000000","#e8141c","#e8141c","#1a1ad6","#1a1ad6"]}, "legend": {"title": null, "legendX": 18, "legendY": 8, "columnPadding": -7, "labelExpr": "replace(replace(replace(datum.label,'−','\u00a0\u00a0'),'−','\u00a0\u00a0'),'−','\u00a0\u00a0')"}},
  "strokeDash": {"field": "s", "type": "nominal", "scale": {"domain": ["ORS−1D","ORS−3D","OPS−GV−1D","ORS−GV−3D","OPS−GV−J−1D","ORS−GV−J−3D"], "range": [[1,0],[1,0],[12,7],[6,4],[3,6],[2,4]]}, "legend": {"title": null, "legendX": 18, "legendY": 8, "columnPadding": -7, "labelExpr": "replace(replace(replace(datum.label,'−','\u00a0\u00a0'),'−','\u00a0\u00a0'),'−','\u00a0\u00a0')"}},
  "strokeWidth": {"field": "s", "type": "nominal", "scale": {"type": "ordinal", "domain": ["ORS−1D","ORS−3D","OPS−GV−1D","ORS−GV−3D","OPS−GV−J−1D","ORS−GV−J−3D"], "range": [2.6,1.3,2.2,1.3,2.2,1.3]}, "legend": {"title": null, "legendX": 18, "legendY": 8, "columnPadding": -7, "labelExpr": "replace(replace(replace(datum.label,'−','\u00a0\u00a0'),'−','\u00a0\u00a0'),'−','\u00a0\u00a0')"}}
 }
}
],
"resolve": {"scale": {"color": "independent", "strokeDash": "independent", "strokeWidth": "independent"}}
}
